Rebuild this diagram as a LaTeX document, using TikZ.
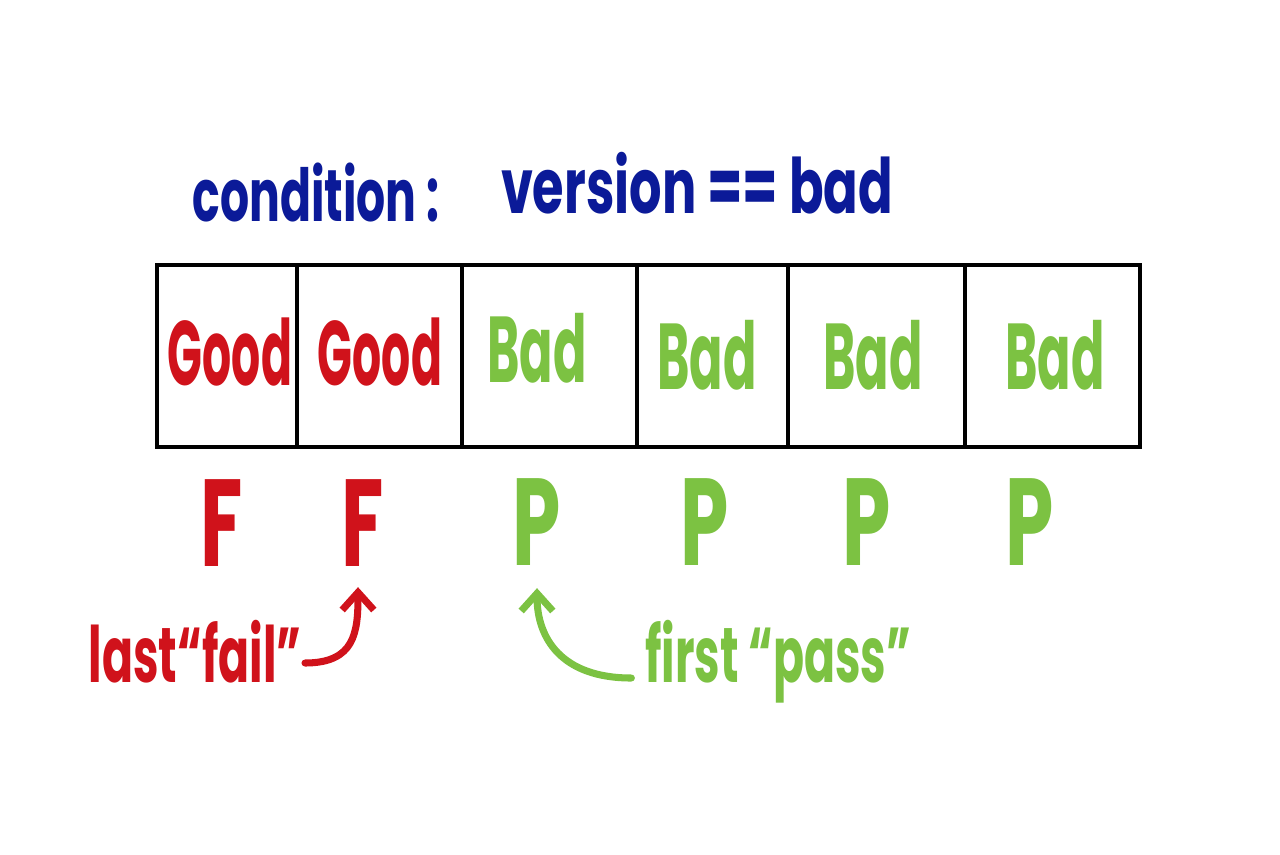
\documentclass[tikz,border=0pt]{standalone}
\usepackage{fontspec}
\usepackage{graphicx}
\setmainfont{Poppins}
\usetikzlibrary{arrows.meta}
\definecolor{hred}{HTML}{D0121B}
\definecolor{hgreen}{HTML}{7CC242}
\definecolor{hblue}{HTML}{0B1A98}
\newcommand\tallt[2]{\scalebox{1}[#1]{#2}}
\begin{document}
\begin{tikzpicture}[x=0.01cm,y=-0.01cm,
  cell/.style={draw=black,line width=1.2pt,minimum height=1.82cm,inner sep=0pt,outer sep=0pt},
  good/.style={text=hred,font=\fontsize{13}{13}\bfseries,inner sep=0pt},
  bad/.style={text=hgreen,font=\fontsize{14}{14}\bfseries,inner sep=0pt},
  redl/.style={text=hred,font=\fontsize{22}{22}\bfseries,inner sep=0pt},
  grnl/.style={text=hgreen,font=\fontsize{22}{22}\bfseries,inner sep=0pt},
  title/.style={text=hblue,font=\fontsize{13}{13}\bfseries,inner sep=0pt},
  note/.style={font=\fontsize{13}{13}\bfseries,inner sep=0pt},
  harrow/.style={line width=2pt,line cap=round,-{Straight Barb[length=5pt,width=9pt,line width=2pt]}}]
\useasboundingbox (0,0) rectangle (1280,854);
\fill[white] (0,0) rectangle (1280,854);

\node[title] (cond) at (316,192) {\tallt{1.6}{condition :}};
\node[title,font=\fontsize{14.5}{14.5}\bfseries] (ver) at (697,183) {\tallt{1.5}{version == bad}};

\node[cell,minimum width=1.40cm] (c1) at (227,356) {};
\node[cell,minimum width=1.65cm] (c2) at (379.5,356) {};
\node[cell,minimum width=1.75cm] (c3) at (549.5,356) {};
\node[cell,minimum width=1.51cm] (c4) at (712.5,356) {};
\node[cell,minimum width=1.77cm] (c5) at (876.5,356) {};
\node[cell,minimum width=1.75cm] (c6) at (1052.5,356) {};

\node[good] (g1) at (230,352) {\tallt{2.0}{Good}};
\node[good] (g2) at (380,352) {\tallt{2.0}{Good}};
\node[bad] (b1) at (537,348) {\tallt{1.9}{Bad}};
\node[bad] (b2) at (707,355) {\tallt{1.9}{Bad}};
\node[bad] (b3) at (873,355) {\tallt{1.9}{Bad}};
\node[bad] (b4) at (1055,355) {\tallt{1.9}{Bad}};

\node[redl] (f1) at (222,523) {\tallt{1.6}{F}};
\node[redl] (f2) at (363,523) {\tallt{1.6}{F}};
\node[grnl] (p1) at (537,522) {\tallt{1.6}{P}};
\node[grnl] (p2) at (705,522) {\tallt{1.6}{P}};
\node[grnl] (p3) at (867,522) {\tallt{1.6}{P}};
\node[grnl] (p4) at (1030,522) {\tallt{1.6}{P}};

\node[note,text=hred] (lf) at (195,652) {\tallt{1.7}{last“fail”}};
\node[note,text=hgreen] (fp) at (778,662) {\tallt{1.7}{first “pass”}};

\draw[harrow,hred] ([shift={(3,11)}]lf.east) .. controls +(50,0) and +(0,45) .. ([shift={(-5,20)}]f2.south);
\draw[harrow,hgreen] ([shift={(-13,16)}]fp.west) .. controls +(-70,0) and +(0,50) .. ([shift={(0,22)}]p1.south);
\end{tikzpicture}
\end{document}
